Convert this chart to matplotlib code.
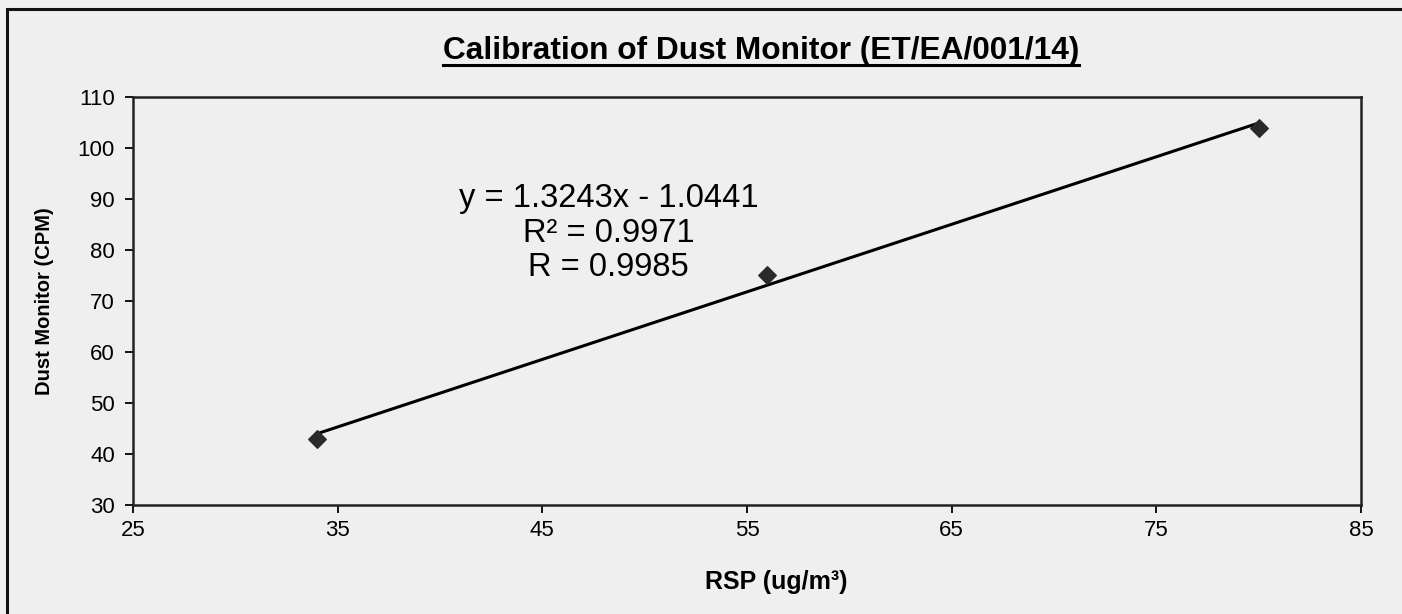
import numpy as np
import matplotlib.pyplot as plt
from matplotlib.patches import Rectangle
from matplotlib.lines import Line2D

plt.rcParams['font.family'] = ['Liberation Sans', 'DejaVu Sans']

# Calibration data
rsp = np.array([34, 56, 80])          # RSP (ug/m3)
cpm = np.array([43, 75, 104])         # Dust monitor (CPM)

xticks = [25, 35, 45, 55, 65, 75, 85]
yticks = [30, 40, 50, 60, 70, 80, 90, 100, 110]

# Trendline text as printed on the chart
eq_lines = ["y = 1.3243x - 1.0441", "R² = 0.9971", "R = 0.9985"]

# Linear fit for the trendline
slope, intercept = np.polyfit(rsp, cpm, 1)

bg = '#efefef'
fig = plt.figure(figsize=(14.02, 6.14), dpi=100, facecolor=bg)
ax = fig.add_axes([133/1402, 1 - 505/614, (1361 - 133)/1402, (505 - 97)/614])
ax.set_facecolor(bg)

# Outer frame
fig.patches.append(Rectangle((7/1402, -0.05), 1.1, 1 - 9/614 + 0.05,
                             transform=fig.transFigure, fill=False,
                             edgecolor='#111111', linewidth=2.2))

# Trendline and points
xf = np.array([rsp.min(), rsp.max()])
ax.plot(xf, slope*xf + intercept, color='black', linewidth=2.2)
ax.scatter(rsp, cpm, marker='D', s=80, color='#2a2a2a', zorder=3)

ax.set_xlim(25, 85)
ax.set_ylim(30, 110)
ax.set_xticks(xticks)
ax.set_yticks(yticks)
ax.tick_params(labelsize=16, length=6, width=1.3, direction='out',
               colors='black', pad=5)
ax.tick_params(axis='y', pad=7)
for s in ax.spines.values():
    s.set_linewidth(1.8)
    s.set_color('#222222')

ax.set_xlabel('RSP (ug/m³)', fontsize=18, fontweight='bold')
ax.xaxis.set_label_coords(0.524, -0.16)
ax.set_ylabel('Dust Monitor (CPM)', fontsize=14.5, fontweight='bold')
ax.yaxis.set_label_coords(-0.064, 0.5)

# Equation text
ax.text(48.25, 83.3, "\n".join(eq_lines), fontsize=23.5, ha='center', va='center',
        linespacing=1.15)

# Underlined title
title = fig.text(761/1402, 1 - 51/614, 'Calibration of Dust Monitor (ET/EA/001/14)',
                 fontsize=22.8, fontweight='bold', ha='center', va='center')
fig.canvas.draw()
bb = title.get_window_extent().transformed(fig.transFigure.inverted())
fig.lines.append(Line2D([bb.x0, bb.x1], [bb.y0 + 0.002, bb.y0 + 0.002],
                        transform=fig.transFigure, color='black', linewidth=2.2))

fig.savefig('out.png', dpi=100, facecolor=bg)
